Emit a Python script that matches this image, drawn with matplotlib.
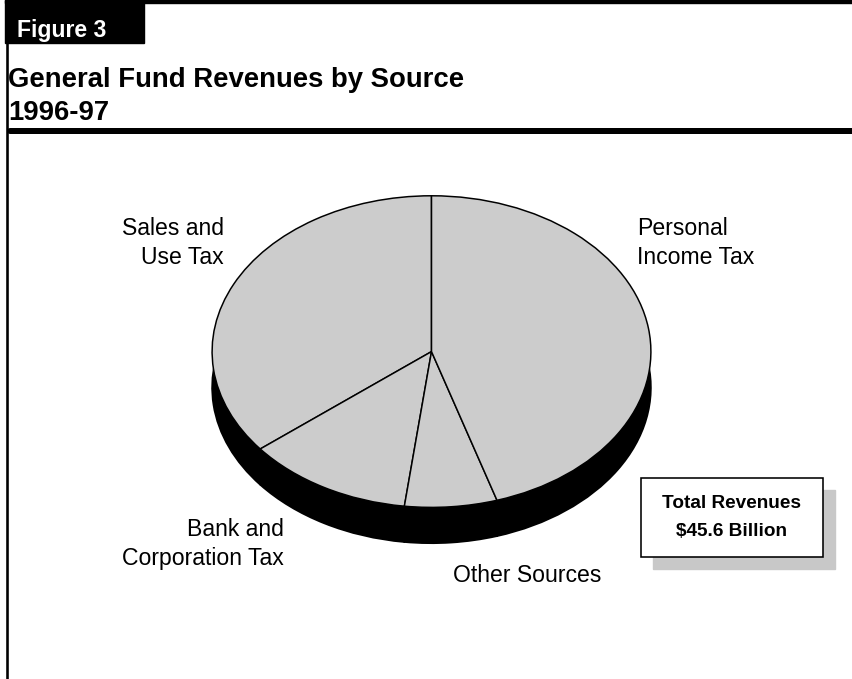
import matplotlib
matplotlib.use("Agg")
import matplotlib.pyplot as plt
from matplotlib.patches import Rectangle
from matplotlib.lines import Line2D

# General Fund revenues, 1996-97 (billions of dollars)
categories = ["Sales and\nUse Tax", "Bank and\nCorporation Tax", "Other Sources", "Personal\nIncome Tax"]
revenues = [16.3, 5.6, 3.1, 20.6]
total_label = "Total Revenues\n$45.6 Billion"
figure_tag = "Figure 3"
title_lines = ["General Fund Revenues by Source", "1996-97"]

W, H = 852, 679
fig = plt.figure(figsize=(W / 100, H / 100), dpi=100)
FONT = "Liberation Sans"
PX = 0.72  # points per pixel at 100 dpi

# Full-figure overlay in pixel coordinates for the frame, headings and labels
bg = fig.add_axes([0, 0, 1, 1])
bg.set_xlim(0, W)
bg.set_ylim(H, 0)
bg.set_axis_off()

# Frame: top rule, tag box, left rule, heavy rule under the title
bg.add_patch(Rectangle((5, 0), W - 5, 3, color="black", zorder=2))
bg.add_patch(Rectangle((5, 0), 139, 43, color="black", zorder=2))
bg.add_line(Line2D([7, 7], [40, H], color="black", lw=2.6 * PX, zorder=2))
bg.add_line(Line2D([10, W + 10], [130.5, 130.5], color="black", lw=6 * PX,
                   solid_capstyle="round", zorder=2))

bg.text(17, 37, figure_tag, color="white", fontsize=23 * PX, fontweight="bold",
        family=FONT, ha="left", va="baseline", zorder=3)
bg.text(8, 87, title_lines[0], color="black", fontsize=27.5 * PX, fontweight="bold",
        family=FONT, ha="left", va="baseline")
bg.text(8, 120, title_lines[1], color="black", fontsize=27.5 * PX, fontweight="bold",
        family=FONT, ha="left", va="baseline")

# Pie drawn as a tilted disc: an axes stretched over the ellipse's bounding box
cx, cy, rx, ry, depth = 431.5, 351.5, 220.5, 156.5, 36
d = depth / ry
pie_ax = fig.add_axes([(cx - rx) / W, (H - (cy + ry + depth)) / H,
                       2 * rx / W, (2 * ry + depth) / H])

# Extruded side: the same pie dropped by the disc depth, all black
pie_ax.pie(revenues, startangle=90, counterclock=True, center=(0, -d), radius=1,
           colors=["black"] * len(revenues),
           wedgeprops=dict(edgecolor="black", linewidth=1.2))
# Top face
pie_ax.pie(revenues, startangle=90, counterclock=True, center=(0, 0), radius=1,
           colors=["#cccccc"] * len(revenues),
           wedgeprops=dict(edgecolor="black", linewidth=1.5 * PX))
pie_ax.set_aspect("auto")
pie_ax.set_xlim(-1.005, 1.005)
pie_ax.set_ylim(-1 - d - 0.005, 1.005)
pie_ax.set_axis_off()

# Slice labels
label_pos = [
    (224, 243, "right"),
    (284, 544, "right"),
    (453, 576, "left"),
    (637, 243, "left"),
]
for text, (x, y, ha) in zip(categories, label_pos):
    bg.text(x, y, text, fontsize=23 * PX, family=FONT, ha=ha, va="center",
            multialignment=ha, linespacing=1.38, color="black")

# Total box with drop shadow
bx, by, bw, bh = 641, 478, 182, 79
bg.add_patch(Rectangle((bx + 12, by + 12), bw, bh, color="#c8c8c8", zorder=1))
bg.add_patch(Rectangle((bx, by), bw, bh, facecolor="white", edgecolor="black",
                       lw=1.6 * PX, zorder=2))
bg.text(bx + bw / 2, by + bh / 2, total_label, fontsize=19 * PX, fontweight="bold",
        family=FONT, ha="center", va="center", linespacing=1.8, zorder=3)

fig.savefig("out.png", dpi=100)
